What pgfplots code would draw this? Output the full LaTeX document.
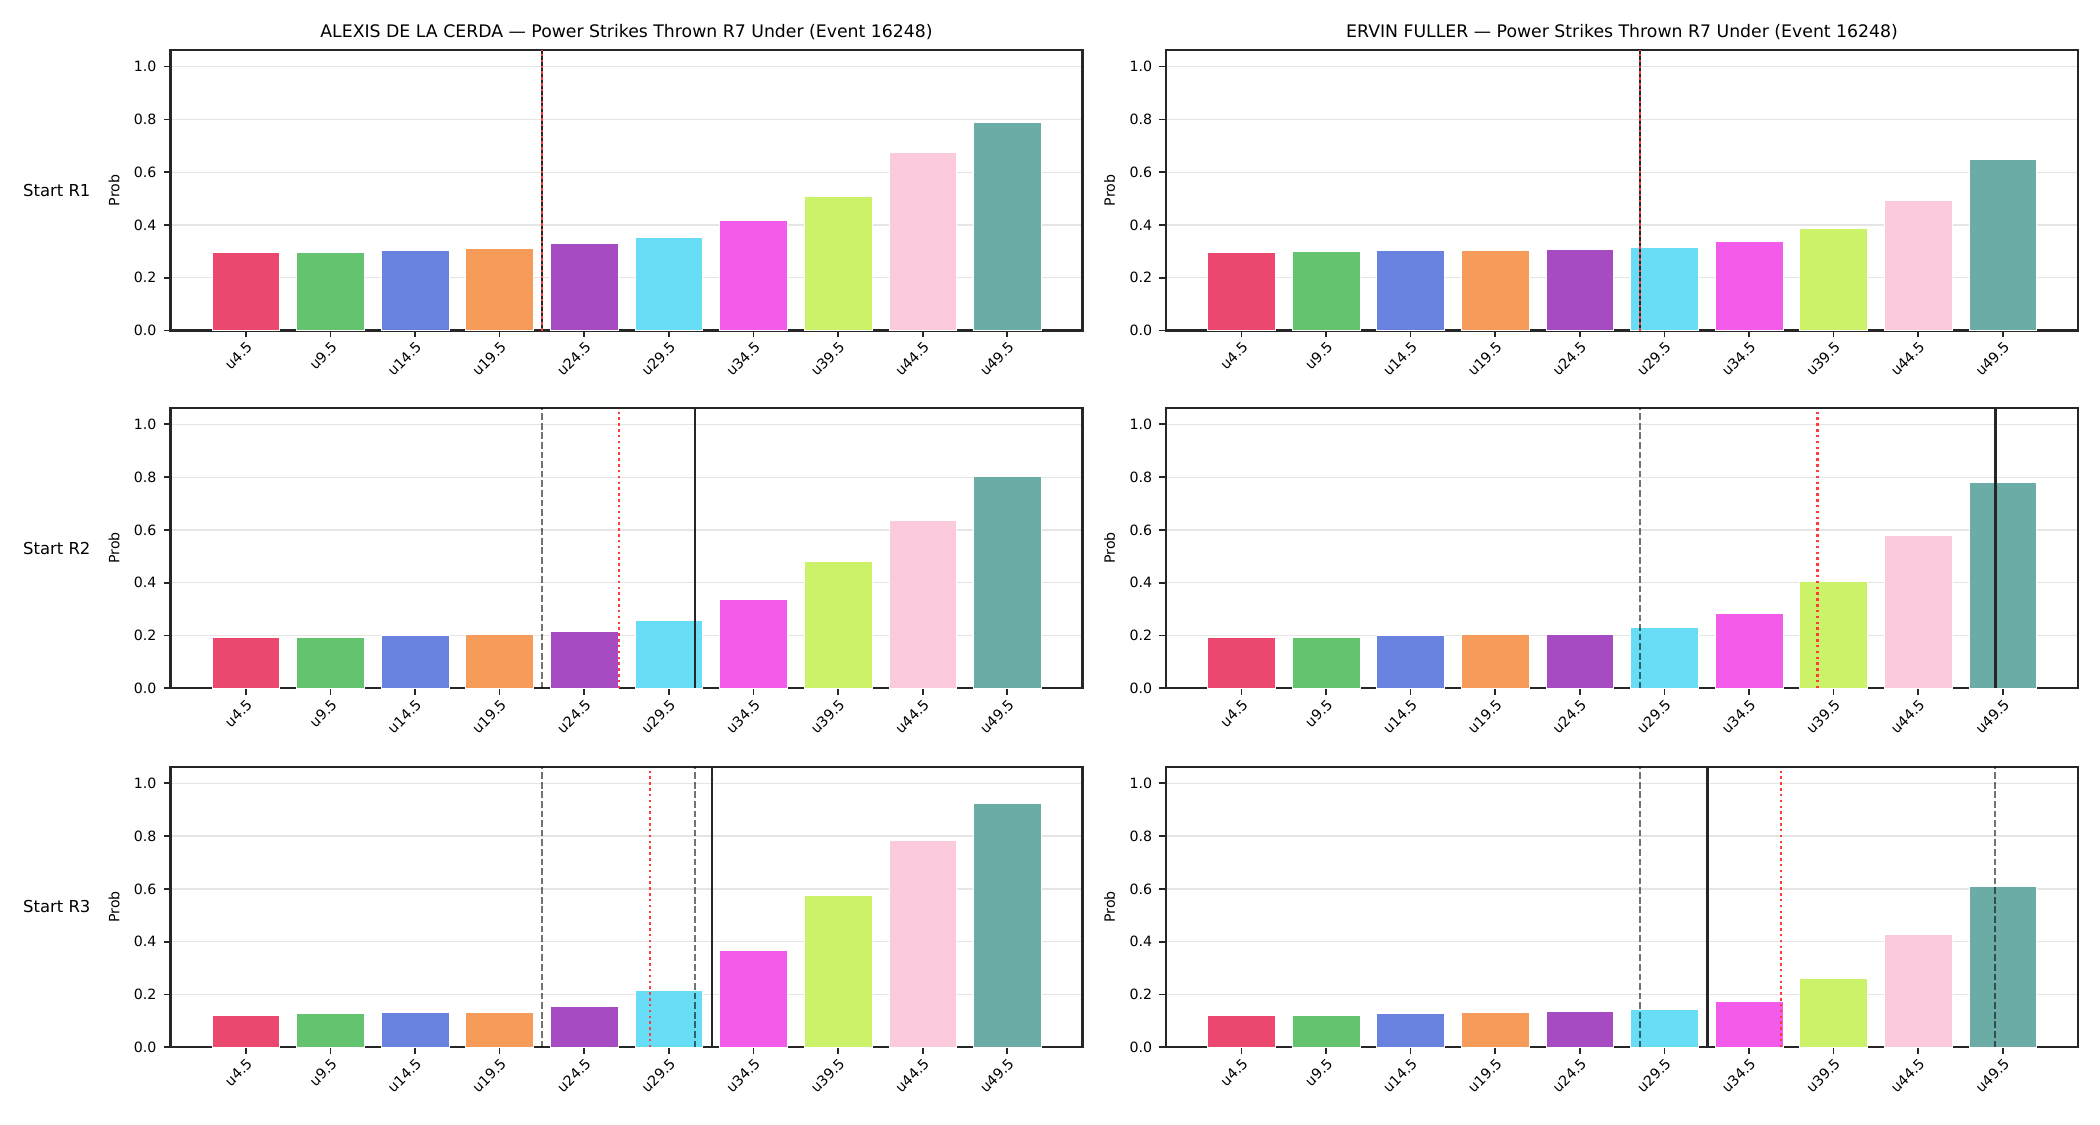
\documentclass[border=0pt]{standalone}
\usepackage{fontspec}
\setmainfont{DejaVu Sans}
\usepackage{pgfplots}
\pgfplotsset{compat=1.18}
\usepackage{pgfplotstable}

\definecolor{c0}{HTML}{EB476F}
\definecolor{c1}{HTML}{63C36F}
\definecolor{c2}{HTML}{6982E0}
\definecolor{c3}{HTML}{F79B5A}
\definecolor{c4}{HTML}{A74BC3}
\definecolor{c5}{HTML}{68DDF6}
\definecolor{c6}{HTML}{F35BEB}
\definecolor{c7}{HTML}{CCF26A}
\definecolor{c8}{HTML}{FBCBDD}
\definecolor{c9}{HTML}{6BADA6}
\definecolor{redl}{HTML}{FF3B3B}

% columns: a = ALEXIS DE LA CERDA, b = ERVIN FULLER; 1..3 = Start R1..R3
\pgfplotstableread{
idx a1    a2    a3    b1    b2    b3
0   0.295 0.192 0.123 0.295 0.192 0.123
1   0.295 0.192 0.127 0.300 0.195 0.123
2   0.303 0.199 0.134 0.303 0.199 0.127
3   0.311 0.206 0.134 0.303 0.206 0.134
4   0.332 0.215 0.154 0.308 0.206 0.138
5   0.353 0.259 0.214 0.314 0.233 0.142
6   0.417 0.339 0.366 0.338 0.286 0.176
7   0.507 0.480 0.575 0.386 0.404 0.263
8   0.674 0.635 0.784 0.492 0.578 0.427
9   0.788 0.803 0.925 0.647 0.780 0.609
}\data

\newcommand{\bars}[1]{%
  \pgfplotsinvokeforeach{0,...,9}{%
    \addplot[ybar, bar width=0.8, fill=c##1, draw=white, line width=0.3pt]
      table[x=idx, y=#1, restrict expr to domain={\coordindex}{##1:##1}] {\data};
  }%
}

\pgfplotsset{
  panel/.style={
    scale only axis, width=437.8pt, height=134.7pt,
    anchor=south west,
    xmin=-0.89, xmax=9.89, ymin=0, ymax=1.063,
    xtick={0,1,2,3,4,5,6,7,8,9},
    xticklabels={u4.5,u9.5,u14.5,u19.5,u24.5,u29.5,u34.5,u39.5,u44.5,u49.5},
    ytick={0,0.2,0.4,0.6,0.8,1.0},
    yticklabel style={/pgf/number format/.cd, fixed, fixed zerofill, precision=1},
    /pgf/number format/assume math mode=true,
    ymajorgrids, xmajorgrids=false,
    grid style={color=black!10, line width=0.6pt},
    tick align=outside, tick pos=left,
    major tick length=3.2pt,
    axis line style={line width=1.1pt, color=black!85},
    tick style={line width=0.8pt, color=black!85},
    ticklabel style={font=\fontsize{6.8}{8}\selectfont},
    xticklabel style={rotate=45, anchor=north east, inner sep=1pt},
    ylabel={Prob},
    ylabel style={font=\fontsize{6.8}{8}\selectfont},
    title style={font=\fontsize{8.3}{10}\selectfont, yshift=-4.5pt},
  },
  dashl/.style={black, opacity=0.55, line width=0.8pt, dash pattern=on 3.2pt off 1.4pt, forget plot},
  dotl/.style={redl, line width=1.2pt, dash pattern=on 1.2pt off 1.6pt, forget plot},
  solidl/.style={black!85, line width=1.3pt, forget plot},
}

\begin{document}
\begin{tikzpicture}
\useasboundingbox (0,0) rectangle (1008pt,540pt);

% Row 1
\begin{axis}[panel, at={(81.84pt,381.3pt)},
  title={ALEXIS DE LA CERDA — Power Strikes Thrown R7 Under (Event 16248)}]
\bars{a1}
\addplot[solidl] coordinates {(3.5,0) (3.5,1.063)};
\addplot[dotl] coordinates {(3.5,0) (3.5,1.063)};
\end{axis}
\begin{axis}[panel, at={(559.7pt,381.3pt)},
  title={ERVIN FULLER — Power Strikes Thrown R7 Under (Event 16248)}]
\bars{b1}
\addplot[solidl] coordinates {(4.71,0) (4.71,1.063)};
\addplot[dotl] coordinates {(4.71,0) (4.71,1.063)};
\end{axis}

% Row 2
\begin{axis}[panel, at={(81.84pt,209.6pt)}]
\bars{a2}
\addplot[dashl] coordinates {(3.5,0) (3.5,1.063)};
\addplot[dotl] coordinates {(4.41,0) (4.41,1.045)};
\addplot[solidl] coordinates {(5.31,0) (5.31,1.063)};
\end{axis}
\begin{axis}[panel, at={(559.7pt,209.6pt)}]
\bars{b2}
\addplot[dashl] coordinates {(4.71,0) (4.71,1.063)};
\addplot[dotl] coordinates {(6.81,0) (6.81,1.045)};
\addplot[solidl] coordinates {(8.91,0) (8.91,1.063)};
\end{axis}

% Row 3
\begin{axis}[panel, at={(81.84pt,37.3pt)}]
\bars{a3}
\addplot[dashl] coordinates {(3.5,0) (3.5,1.063)};
\addplot[dashl] coordinates {(5.31,0) (5.31,1.063)};
\addplot[dotl] coordinates {(4.78,0) (4.78,1.045)};
\addplot[solidl] coordinates {(5.51,0) (5.51,1.063)};
\end{axis}
\begin{axis}[panel, at={(559.7pt,37.3pt)}]
\bars{b3}
\addplot[dashl] coordinates {(4.71,0) (4.71,1.063)};
\addplot[dashl] coordinates {(8.91,0) (8.91,1.063)};
\addplot[dotl] coordinates {(6.38,0) (6.38,1.045)};
\addplot[solidl] coordinates {(5.51,0) (5.51,1.063)};
\end{axis}

% Row labels
\node[anchor=west, inner sep=0pt, font=\fontsize{7.9}{9.5}\selectfont] at (10.9pt,448.65pt) {Start R1};
\node[anchor=west, inner sep=0pt, font=\fontsize{7.9}{9.5}\selectfont] at (10.9pt,276.95pt) {Start R2};
\node[anchor=west, inner sep=0pt, font=\fontsize{7.9}{9.5}\selectfont] at (10.9pt,104.65pt) {Start R3};
\end{tikzpicture}
\end{document}
